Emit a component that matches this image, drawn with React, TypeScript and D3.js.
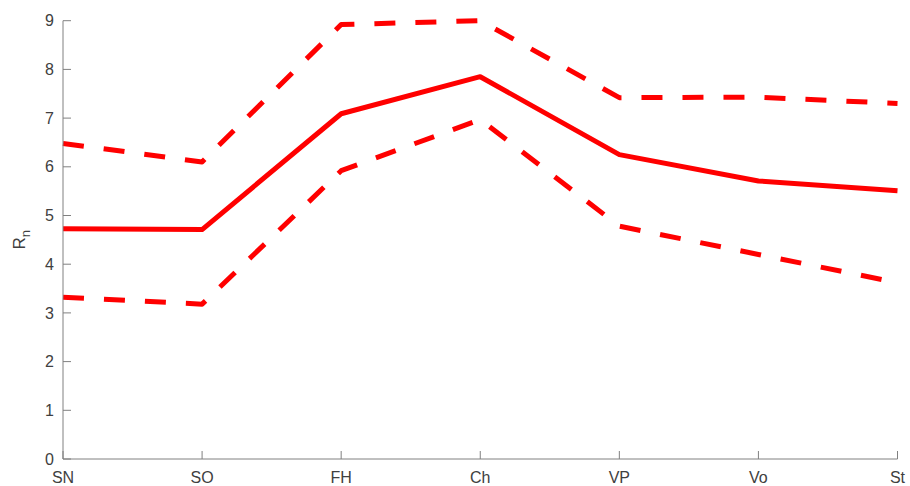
import React from "react";
import * as d3 from "d3";

const categories = ["SN", "SO", "FH", "Ch", "VP", "Vo", "St"];
const meanValues = [4.73, 4.71, 7.09, 7.85, 6.25, 5.71, 5.51];
const upperValues = [6.48, 6.1, 8.92, 9.0, 7.42, 7.43, 7.3];
const lowerValues = [3.32, 3.18, 5.92, 6.97, 4.78, 4.2, 3.62];
const yTicks = [0, 1, 2, 3, 4, 5, 6, 7, 8, 9];

const W = 910;
const H = 486;
const left = 63;
const right = 897.5;
const top = 20.7;
const bottom = 459;

export default function App() {
  const x = d3.scalePoint<string>().domain(categories).range([left, right]);
  const y = d3.scaleLinear().domain([0, 9]).range([bottom, top]);
  const line = d3
    .line<number>()
    .x((_, i) => x(categories[i]) as number)
    .y((d) => y(d));
  const axisColor = "#808080";
  const textColor = "#404040";
  const font = "'Liberation Sans', Arial, sans-serif";
  return (
    <svg width={W} height={H} style={{ position: "absolute", left: 0, top: 0, background: "#fff" }}>
      <rect x={0} y={0} width={W} height={H} fill="#fff" />
      <path d={line(upperValues) || ""} fill="none" stroke="#ff0000" strokeWidth={5} strokeDasharray="21,20" strokeLinejoin="round" />
      <path d={line(lowerValues) || ""} fill="none" stroke="#ff0000" strokeWidth={5} strokeDasharray="21,20" strokeLinejoin="round" />
      <path d={line(meanValues) || ""} fill="none" stroke="#ff0000" strokeWidth={5} strokeLinejoin="round" />
      {/* axes */}
      <line x1={left} x2={left} y1={top} y2={bottom} stroke={axisColor} strokeWidth={1} />
      <line x1={left} x2={right} y1={bottom} y2={bottom} stroke={axisColor} strokeWidth={1} />
      {yTicks.map((t) => (
        <g key={t}>
          <line x1={left} x2={left + 8} y1={y(t)} y2={y(t)} stroke={axisColor} />
          <text x={left - 9} y={y(t)} dy="0.35em" textAnchor="end" fontSize={16} fill={textColor} fontFamily={font}>
            {t}
          </text>
        </g>
      ))}
      {categories.map((c) => (
        <g key={c}>
          <line x1={x(c)} x2={x(c)} y1={bottom} y2={bottom - 8} stroke={axisColor} />
          <text x={x(c)} y={bottom + 24} textAnchor="middle" fontSize={16} fill={textColor} fontFamily={font}>
            {c}
          </text>
        </g>
      ))}
      <text transform={`translate(25, ${(top + bottom) / 2}) rotate(-90)`} textAnchor="middle" fontSize={17} fill={textColor} fontFamily={font}>
        R<tspan fontSize={13} dy={5}>n</tspan>
      </text>
    </svg>
  );
}
